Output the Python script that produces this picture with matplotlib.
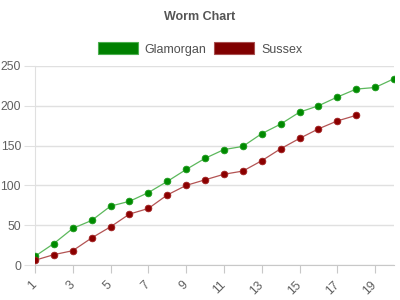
import matplotlib
matplotlib.use("Agg")
import matplotlib.pyplot as plt
from matplotlib.patches import Patch

plt.rcParams['font.family'] = ['Liberation Sans', 'DejaVu Sans']

overs = list(range(1, 21))
glamorgan = [11, 27, 46, 56, 74, 80, 91, 105, 120, 134, 145, 149, 165, 177, 192, 200, 211, 221, 223, 234]
sussex_overs = list(range(1, 19))
sussex = [6, 13, 18, 34, 48, 64, 71, 88, 100, 107, 114, 118, 131, 146, 159, 171, 181, 188]
xtick_vals = list(range(1, 20, 2))
ytick_vals = [0, 50, 100, 150, 200, 250]

fig = plt.figure(figsize=(4, 3), dpi=100)
ax = fig.add_axes([35/400, 1-265/300, (394-35)/400, (265-66)/300])

green_m = '#008a00'
green_l = '#5cb85c'
red_m = '#8b0000'
red_l = '#b35454'

ax.plot(overs, glamorgan, color=green_l, lw=0.9, zorder=3)
ax.plot(overs, glamorgan, 'o', color=green_m, ms=4.8, mec='#1a9a1a', mew=0.6, zorder=4)
ax.plot(sussex_overs, sussex, color=red_l, lw=0.9, zorder=3)
ax.plot(sussex_overs, sussex, 'o', color=red_m, ms=4.8, mec='#a02020', mew=0.6, zorder=4)

ax.set_xlim(1, 20)
ax.set_ylim(0, 250)
ax.set_yticks(ytick_vals)
ax.set_xticks(xtick_vals)
ax.set_xticklabels([str(v) for v in xtick_vals], rotation=45, ha='right', va='center',
                   rotation_mode='anchor')
ax.grid(axis='y', color='#e0e0e0', lw=1)
ax.set_axisbelow(True)
for s in ['top', 'right']:
    ax.spines[s].set_visible(False)
ax.spines['left'].set_color('#e0e0e0')
ax.spines['bottom'].set_color('#c8c8c8')
ax.tick_params(axis='y', length=8, color='#e0e0e0', labelsize=8.8, labelcolor='#606060', pad=2)
ax.tick_params(axis='x', length=6, color='#c8c8c8', labelsize=8.8, labelcolor='#606060', pad=7)

fig.text(0.5, 1-17/300, 'Worm Chart', ha='center', va='center', fontsize=9, fontweight='bold', color='#555555')

handles = [Patch(facecolor='#008000', edgecolor='#4caf50', lw=0.8, label='Glamorgan'),
           Patch(facecolor='#800000', edgecolor='#a85050', lw=0.8, label='Sussex')]
fig.legend(handles=handles, loc='center', bbox_to_anchor=(0.5, 1-49/300), ncol=2, frameon=False,
           fontsize=9, labelcolor='#505050', handlelength=3.2, handleheight=1.05,
           handletextpad=0.55, columnspacing=0.6)

fig.savefig('out.png', dpi=100)
